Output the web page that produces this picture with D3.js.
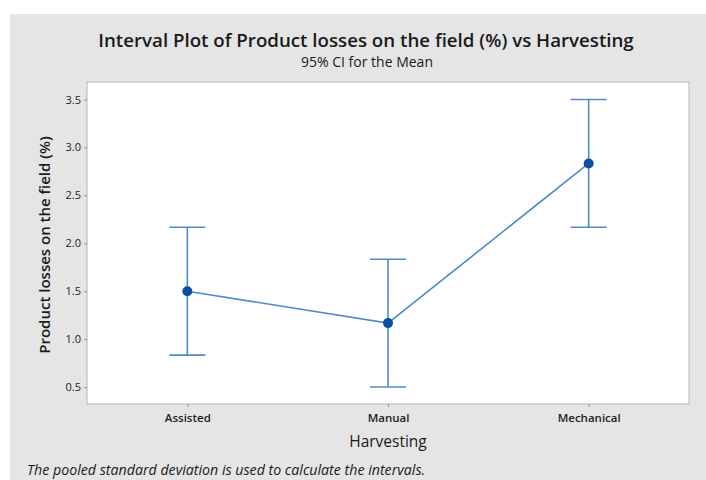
<!DOCTYPE html>
<html>
<head>
<meta charset="utf-8">
<script src="https://cdn.jsdelivr.net/npm/d3@7"></script>
<style>
  body { margin: 0; background: #fff; }
  svg { display: block; font-family: "Open Sans", "Noto Sans", sans-serif; }
</style>
</head>
<body>
<div id="chart"></div>
<script>
'use strict';

// categories and the interval values (mean with 95% CI)
var categories = ['Assisted', 'Manual', 'Mechanical'];
var means = [1.5, 1.167, 2.833];
var lower = [0.833, 0.5, 2.167];
var upper = [2.167, 1.833, 3.5];
var yTicks = [0.5, 1.0, 1.5, 2.0, 2.5, 3.0, 3.5];

var width = 706,
    height = 480;

var plot = {left: 87, top: 82, right: 689, bottom: 404};

var svg = d3.select('#chart').append('svg')
    .attr('width', width)
    .attr('height', height);

// grey panel
svg.append('rect')
    .attr('x', 10).attr('y', 14)
    .attr('width', width - 10).attr('height', height - 14)
    .attr('fill', '#e5e5e5');

var x = d3.scalePoint()
    .domain(categories)
    .range([plot.left, plot.right])
    .padding(0.5);

var y = d3.scaleLinear()
    .domain([0.323, 3.683])
    .range([plot.bottom, plot.top]);

// plot area
svg.append('rect')
    .attr('x', plot.left).attr('y', plot.top)
    .attr('width', plot.right - plot.left).attr('height', plot.bottom - plot.top)
    .attr('fill', '#fff')
    .attr('stroke', '#b4b4b4')
    .attr('stroke-width', 1);

// axes
var yAxis = svg.append('g')
    .attr('transform', 'translate(' + plot.left + ',0)')
    .call(d3.axisLeft(y).tickValues(yTicks).tickFormat(d3.format('.1f')).tickSize(3).tickPadding(3));
yAxis.select('.domain').remove();
yAxis.selectAll('line').attr('stroke', '#999');
yAxis.selectAll('text').attr('font-size', 11).attr('fill', '#222').attr('font-family', '"Open Sans", sans-serif');

var xAxis = svg.append('g')
    .attr('transform', 'translate(0,' + plot.bottom + ')')
    .call(d3.axisBottom(x).tickSize(3).tickPadding(7));
xAxis.select('.domain').remove();
xAxis.selectAll('line').attr('stroke', '#999');
xAxis.selectAll('text').attr('font-size', 11.5).attr('font-weight', 600).attr('fill', '#222').attr('font-family', '"Open Sans", sans-serif');

var blue = '#4d8bcd';
var cap = 18;

var g = svg.append('g');

// error bars
var bars = g.selectAll('.bar')
    .data(categories)
    .enter()
    .append('g')
    .attr('class', 'bar');

bars.append('line')
    .attr('x1', function(d) { return x(d); })
    .attr('x2', function(d) { return x(d); })
    .attr('y1', function(d, i) { return y(lower[i]); })
    .attr('y2', function(d, i) { return y(upper[i]); })
    .attr('stroke', blue).attr('stroke-width', 1.6);

bars.append('line')
    .attr('x1', function(d) { return x(d) - cap; })
    .attr('x2', function(d) { return x(d) + cap; })
    .attr('y1', function(d, i) { return y(upper[i]); })
    .attr('y2', function(d, i) { return y(upper[i]); })
    .attr('stroke', blue).attr('stroke-width', 1.6);

bars.append('line')
    .attr('x1', function(d) { return x(d) - cap; })
    .attr('x2', function(d) { return x(d) + cap; })
    .attr('y1', function(d, i) { return y(lower[i]); })
    .attr('y2', function(d, i) { return y(lower[i]); })
    .attr('stroke', blue).attr('stroke-width', 1.6);

// connect line
var line = d3.line()
    .x(function(d, i) { return x(categories[i]); })
    .y(function(d) { return y(d); });

g.append('path')
    .datum(means)
    .attr('d', line)
    .attr('fill', 'none')
    .attr('stroke', blue)
    .attr('stroke-width', 1.6);

g.selectAll('circle')
    .data(means)
    .enter()
    .append('circle')
    .attr('cx', function(d, i) { return x(categories[i]); })
    .attr('cy', function(d) { return y(d); })
    .attr('r', 5)
    .attr('fill', '#0b4fa0');

// titles
svg.append('text')
    .attr('x', 366).attr('y', 47)
    .attr('text-anchor', 'middle')
    .attr('font-size', 18.7)
    .attr('font-weight', 600)
    .attr('fill', '#1a1a1a')
    .text('Interval Plot of Product losses on the field (%) vs Harvesting');

svg.append('text')
    .attr('x', 367).attr('y', 67)
    .attr('text-anchor', 'middle')
    .attr('font-size', 14)
    .attr('font-weight', 500)
    .attr('fill', '#1a1a1a')
    .text('95% CI for the Mean');

svg.append('text')
    .attr('x', (plot.left + plot.right) / 2).attr('y', 447)
    .attr('text-anchor', 'middle')
    .attr('font-size', 15.5)
    .attr('font-weight', 500)
    .attr('fill', '#1a1a1a')
    .text('Harvesting');

svg.append('text')
    .attr('transform', 'translate(50,' + ((plot.top + plot.bottom) / 2 + 2) + ') rotate(-90)')
    .attr('text-anchor', 'middle')
    .attr('font-size', 15)
    .attr('font-weight', 600)
    .attr('fill', '#1a1a1a')
    .text('Product losses on the field (%)');

svg.append('text')
    .attr('x', 27).attr('y', 475)
    .attr('font-size', 14.2)
    .attr('font-style', 'italic')
    .attr('fill', '#1a1a1a')
    .text('The pooled standard deviation is used to calculate the intervals.');
</script>
</body>
</html>
